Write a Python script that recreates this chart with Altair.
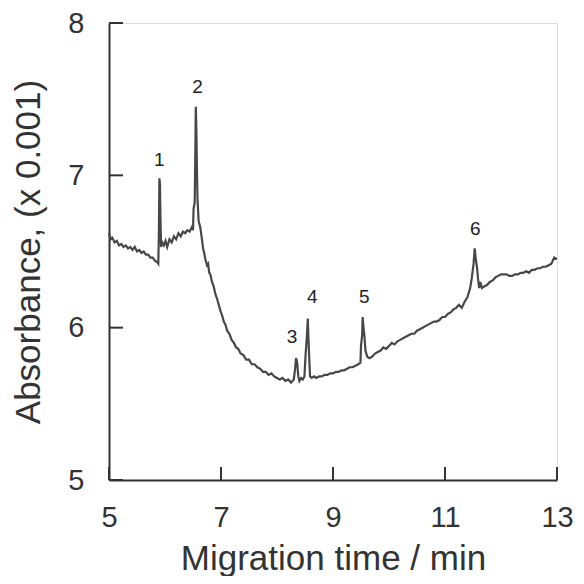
import altair as alt
import pandas as pd

# Electropherogram trace
time_min = [
    5.00, 5.03, 5.06, 5.10, 5.14, 5.18, 5.22, 5.26, 5.30, 5.34, 5.38, 5.42, 5.46, 5.50,
    5.54, 5.58, 5.62, 5.66, 5.70, 5.74, 5.78, 5.82, 5.86, 5.88,
    5.89, 5.90, 5.91, 5.92, 5.93, 5.95, 5.98, 6.01, 6.04, 6.08, 6.12, 6.16, 6.20, 6.24,
    6.28, 6.32, 6.36, 6.40, 6.44, 6.48, 6.50,
    6.51, 6.53, 6.54, 6.55, 6.56, 6.57, 6.58, 6.60, 6.63, 6.66, 6.68, 6.70, 6.72, 6.75,
    6.77, 6.79, 6.81, 6.84, 6.87, 6.90, 6.93, 6.96, 6.99, 7.02, 7.05, 7.08, 7.11, 7.15,
    7.19, 7.23, 7.27, 7.31, 7.35, 7.40, 7.45, 7.50, 7.55, 7.60, 7.65, 7.70, 7.75, 7.80,
    7.85, 7.90, 7.95, 8.00, 8.05, 8.10, 8.15, 8.20, 8.25, 8.30,
    8.32, 8.34, 8.36, 8.38, 8.40, 8.43, 8.46, 8.49,
    8.51, 8.53, 8.55, 8.56, 8.57, 8.59, 8.62, 8.66, 8.70, 8.75, 8.80, 8.85, 8.90, 8.95,
    9.00, 9.05, 9.10, 9.15, 9.20, 9.25, 9.30, 9.35, 9.40, 9.45, 9.49,
    9.50, 9.52, 9.53, 9.54, 9.56, 9.58, 9.61, 9.65, 9.70, 9.75, 9.80, 9.85, 9.90, 9.95,
    10.00, 10.05, 10.10, 10.15, 10.20, 10.25, 10.30, 10.35, 10.40, 10.45, 10.50, 10.55,
    10.60, 10.65, 10.70, 10.75, 10.80, 10.85, 10.90, 10.95, 11.00, 11.05, 11.10, 11.15,
    11.20, 11.25, 11.30, 11.35, 11.40,
    11.45, 11.48, 11.51, 11.53, 11.55, 11.57, 11.59, 11.61, 11.63, 11.66, 11.70, 11.75,
    11.80, 11.85, 11.90, 11.95, 12.00, 12.05, 12.10, 12.15, 12.20, 12.25, 12.30, 12.35,
    12.40, 12.45, 12.50, 12.55, 12.60, 12.65, 12.70, 12.75, 12.80, 12.85, 12.90, 12.95, 13.00,
]
absorbance = [
    6.62, 6.58, 6.59, 6.56, 6.57, 6.54, 6.55, 6.53, 6.54, 6.52, 6.53, 6.51, 6.53, 6.50,
    6.51, 6.49, 6.50, 6.48, 6.48, 6.46, 6.46, 6.44, 6.43, 6.42,
    6.60, 6.98, 6.94, 6.70, 6.53, 6.56, 6.54, 6.57, 6.53, 6.58, 6.56, 6.60, 6.58, 6.62,
    6.60, 6.63, 6.62, 6.64, 6.63, 6.66, 6.64,
    6.78, 6.82, 7.10, 7.45, 7.30, 7.05, 6.85, 6.70, 6.66, 6.58, 6.52, 6.49, 6.45, 6.41,
    6.42, 6.36, 6.35, 6.30, 6.27, 6.22, 6.19, 6.15, 6.11, 6.08, 6.04, 6.02, 5.98, 5.96,
    5.92, 5.90, 5.87, 5.86, 5.83, 5.82, 5.79, 5.79, 5.76, 5.76, 5.74, 5.73, 5.71, 5.71,
    5.69, 5.70, 5.68, 5.67, 5.66, 5.67, 5.65, 5.66, 5.64, 5.66,
    5.72, 5.80, 5.77, 5.68, 5.65, 5.67, 5.66, 5.68,
    5.82, 5.92, 6.06, 5.95, 5.85, 5.68, 5.67, 5.68, 5.67, 5.68, 5.68, 5.69, 5.69, 5.70,
    5.70, 5.71, 5.71, 5.72, 5.72, 5.73, 5.74, 5.74, 5.75, 5.76, 5.77,
    5.88, 5.95, 6.07, 6.02, 5.95, 5.85, 5.81, 5.80, 5.81, 5.83, 5.84, 5.85, 5.87, 5.86,
    5.88, 5.90, 5.89, 5.91, 5.92, 5.93, 5.94, 5.95, 5.96, 5.96, 5.98, 5.99,
    6.00, 6.01, 6.02, 6.03, 6.04, 6.04, 6.05, 6.07, 6.07, 6.09, 6.10, 6.12,
    6.13, 6.15, 6.13, 6.17, 6.20,
    6.26, 6.33, 6.42, 6.52, 6.45, 6.40, 6.32, 6.26, 6.30, 6.26, 6.27, 6.28,
    6.30, 6.31, 6.33, 6.34, 6.35, 6.35, 6.35, 6.34, 6.34, 6.35, 6.35, 6.36,
    6.36, 6.37, 6.36, 6.38, 6.38, 6.39, 6.39, 6.40, 6.40, 6.41, 6.42, 6.46, 6.45,
]

# Peak labels
peak_names = ["1", "2", "3", "4", "5", "6"]
peak_time = [5.90, 6.58, 8.27, 8.63, 9.56, 11.54]
peak_abs = [7.10, 7.58, 5.94, 6.20, 6.20, 6.65]

x_ticks = [5, 7, 9, 11, 13]
y_ticks = [5, 6, 7, 8]

trace = pd.DataFrame({"t": time_min, "a": absorbance})
peaks = pd.DataFrame({"t": peak_time, "a": peak_abs, "name": peak_names})
xt = pd.DataFrame({"t": x_ticks})
yt = pd.DataFrame({"a": y_ticks})

FONT = "Liberation Sans"
INK = "#333333"

xscale = alt.Scale(domain=[5, 13], nice=False, zero=False)
yscale = alt.Scale(domain=[5, 8], nice=False, zero=False)

xaxis = alt.Axis(values=x_ticks, ticks=False, tickSize=0, grid=False, domainColor=INK,
                 domainWidth=2, labelFont=FONT, labelFontSize=29, labelColor=INK,
                 labelPadding=23, labelFlush=False, labelOverlap=False,
                 title="Migration time / min", titleFont=FONT,
                 titleFontSize=35, titleFontWeight="normal", titleColor=INK,
                 titlePadding=9, format="d")
yaxis = alt.Axis(values=y_ticks, ticks=False, tickSize=0, grid=False, domainColor=INK,
                 domainWidth=2, labelFont=FONT, labelFontSize=29, labelColor=INK,
                 labelPadding=25, labelFlush=False, labelOverlap=False,
                 title="Absorbance, (x 0.001)", titleFont=FONT,
                 titleFontSize=35, titleFontWeight="normal", titleColor=INK,
                 titlePadding=21, format="d")

line = alt.Chart(trace).mark_line(color="#474747", strokeWidth=2.2).encode(
    x=alt.X("t:Q", scale=xscale, axis=xaxis),
    y=alt.Y("a:Q", scale=yscale, axis=yaxis),
)

xtick_rules = alt.Chart(xt).mark_rule(color=INK, strokeWidth=2).encode(
    x=alt.X("t:Q", scale=xscale),
    y=alt.value(457),
    y2=alt.value(444),
)
ytick_rules = alt.Chart(yt).mark_rule(color=INK, strokeWidth=2).encode(
    y=alt.Y("a:Q", scale=yscale),
    x=alt.value(0),
    x2=alt.value(14),
)

labels = alt.Chart(peaks).mark_text(font=FONT, fontSize=19, color="#222222").encode(
    x=alt.X("t:Q", scale=xscale),
    y=alt.Y("a:Q", scale=yscale),
    text="name:N",
)

chart = alt.layer(line, xtick_rules, ytick_rules, labels).properties(
    width=448,
    height=457,
    autosize=alt.AutoSizeParams(type="none"),
    padding={"left": 101, "top": 15, "right": 19, "bottom": 96},
).configure_view(stroke=None).configure(background="white")

chart.save("out.html", embed_options={"renderer": "svg", "actions": False})
